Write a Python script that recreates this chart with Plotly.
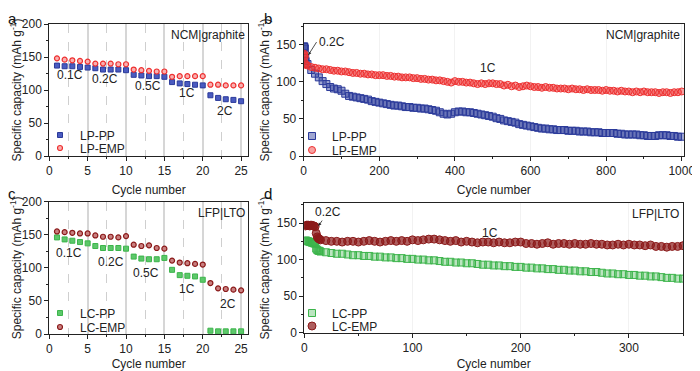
import plotly.graph_objects as go

# ---------------- Panel a: rate test NCM|graphite ----------------
cyc_a = list(range(1, 26))
lp_pp_rate = [137, 136, 136, 135, 134, 133, 131, 131, 131, 130,
              123, 122, 121, 121, 120, 112, 110, 109, 108, 107,
              92, 88, 86, 85, 83]
lp_emp_rate = [148, 146, 145, 144, 143, 140, 140, 140, 139, 139,
               131, 130, 129, 128, 128, 120, 121, 121, 121, 121,
               108, 108, 107, 107, 107]
rate_labels = ["0.1C", "0.2C", "0.5C", "1C", "2C"]
rate_lab_x_a = [2.7, 7.3, 12.8, 17.9, 22.9]
rate_lab_y_a = [122, 116, 106, 96, 68.6]

# ---------------- Panel c: rate test LFP|LTO ----------------
cyc_c = list(range(1, 26))
lc_pp_rate = [146, 143, 141, 139, 137, 133, 130, 130, 130, 129,
              117, 114, 113, 113, 115, 97, 89, 88, 87, 82,
              5, 4, 4, 4, 4]
lc_emp_rate = [155, 154, 153, 152, 152, 149, 147, 147, 146, 148,
               135, 133, 134, 130, 129, 111, 108, 107, 106, 105,
               77, 69, 68, 67, 66]
rate_lab_x_c = [2.6, 8.1, 12.6, 18.0, 23.3]
rate_lab_y_c = [123, 109, 92.7, 67.6, 46]

# ---------------- Panel b: long cycling NCM|graphite ----------------
cyc_b = [1, 2, 3, 4, 5] + list(range(10, 1001, 10))
lp_pp_cyc = [148, 147, 145, 132, 128,
             124, 116, 111, 106, 101, 97, 93, 91, 90, 88,
             84, 81, 80, 79, 78, 77, 76, 74, 73, 72,
             71, 70, 69, 68, 68, 67, 66, 66, 65, 65,
             64, 64, 63, 62, 61, 59, 57, 56, 57, 59,
             60, 60, 59, 59, 58, 57, 56, 55, 54, 53,
             51, 50, 48, 47, 46, 45, 43, 42, 41, 40,
             39, 38, 37, 37, 36, 36, 35, 35, 35, 34,
             34, 34, 33, 33, 33, 32, 32, 32, 31, 31,
             31, 31, 30, 30, 29, 29, 29, 29, 28, 28,
             27, 27, 27, 28, 28, 28, 27, 27, 26, 26]
lp_emp_cyc = [138, 136, 134, 125, 123,
              122, 120, 119, 118, 117, 117, 116, 115, 115, 114,
              114, 113, 112, 112, 111, 111, 110, 110, 109, 109,
              109, 108, 108, 107, 107, 106, 106, 106, 105, 105,
              104, 104, 103, 103, 102, 102, 101, 100, 99, 101,
              100, 100, 99, 99, 98, 97, 98, 97, 98, 98,
              97, 97, 95, 96, 94, 95, 93, 94, 95, 94,
              93, 93, 92, 93, 92, 92, 91, 91, 91, 90,
              91, 90, 90, 89, 90, 89, 89, 89, 88, 89,
              88, 88, 87, 88, 87, 87, 86, 87, 86, 87,
              86, 86, 86, 85, 86, 86, 85, 86, 86, 87]

# ---------------- Panel d: long cycling LFP|LTO ----------------
cyc_d = list(range(1, 15)) + list(range(15, 351, 5))
lc_emp_cyc = [146, 147, 147, 147, 146, 147, 147, 146, 146, 145,
              136, 131, 129, 128,
              127, 126, 125, 125, 124, 125, 125, 124, 125, 126,
              125, 124, 125, 126, 125, 126, 125, 127, 126, 127,
              128, 128, 127, 126, 125, 126, 124, 125, 124, 123,
              124, 124, 123, 124, 123, 123, 124, 124, 122, 122,
              121, 122, 123, 121, 122, 122, 121, 122, 121, 121,
              122, 121, 121, 120, 120, 121, 120, 121, 120, 120,
              119, 120, 118, 118, 117, 118, 118, 119]
lc_pp_cyc = [126, 126, 125, 125, 124, 124, 123, 123, 122, 122,
             115, 113, 112, 112,
             111, 110, 109, 108, 108, 107, 106, 106, 105, 105,
             104, 104, 103, 103, 102, 102, 101, 101, 100, 100,
             99, 99, 98, 97, 97, 96, 96, 95, 95, 94,
             93, 93, 92, 92, 91, 91, 90, 90, 89, 89,
             88, 88, 87, 87, 86, 86, 85, 85, 84, 84,
             83, 83, 82, 81, 81, 80, 80, 79, 79, 78,
             78, 77, 77, 76, 75, 75, 74, 74]

BLUE = "#2b3a9a"
RED = "#ee3030"
GREEN = "#3cb44b"
DRED = "#8b1a1a"
FONT = "Liberation Sans, Arial, sans-serif"

fig = go.Figure()

# a
fig.add_trace(go.Scatter(x=cyc_a, y=lp_pp_rate, mode="markers", name="LP-PP",
                         marker=dict(symbol="square", size=5, color="#4a5bc0",
                                     line=dict(color=BLUE, width=1)),
                         xaxis="x", yaxis="y", legend="legend"))
fig.add_trace(go.Scatter(x=cyc_a, y=lp_emp_rate, mode="markers", name="LP-EMP",
                         marker=dict(symbol="circle", size=5, color="#f9b0b0",
                                     line=dict(color=RED, width=1.2)),
                         xaxis="x", yaxis="y", legend="legend5"))
# b
fig.add_trace(go.Scatter(x=cyc_b, y=lp_pp_cyc, mode="markers", name="LP-PP",
                         marker=dict(symbol="square", size=7, color="rgba(43,58,154,0.45)",
                                     line=dict(color=BLUE, width=1)),
                         xaxis="x2", yaxis="y2", legend="legend2"))
fig.add_trace(go.Scatter(x=cyc_b, y=lp_emp_cyc, mode="markers", name="LP-EMP",
                         marker=dict(symbol="circle", size=7, color="rgba(238,48,48,0.45)",
                                     line=dict(color=RED, width=1)),
                         xaxis="x2", yaxis="y2", legend="legend6"))
# c
fig.add_trace(go.Scatter(x=cyc_c, y=lc_pp_rate, mode="markers", name="LC-PP",
                         marker=dict(symbol="square", size=5, color="#5cc86a",
                                     line=dict(color=GREEN, width=1)),
                         xaxis="x3", yaxis="y3", legend="legend3"))
fig.add_trace(go.Scatter(x=cyc_c, y=lc_emp_rate, mode="markers", name="LC-EMP",
                         marker=dict(symbol="circle", size=5, color="#c98080",
                                     line=dict(color=DRED, width=1.2)),
                         xaxis="x3", yaxis="y3", legend="legend7"))
# d
fig.add_trace(go.Scatter(x=cyc_d, y=lc_pp_cyc, mode="markers", name="LC-PP",
                         marker=dict(symbol="square", size=7, color="rgba(60,180,75,0.35)",
                                     line=dict(color=GREEN, width=1)),
                         xaxis="x4", yaxis="y4", legend="legend4"))
fig.add_trace(go.Scatter(x=cyc_d, y=lc_emp_cyc, mode="markers", name="LC-EMP",
                         marker=dict(symbol="circle", size=8, color="rgba(139,26,26,0.7)",
                                     line=dict(color=DRED, width=1)),
                         xaxis="x4", yaxis="y4", legend="legend8"))

# page body has an 8px margin: figure drawn at (8,8); map reference pixels by -8
OFF = 8
W, H = 700 - OFF, 371 - OFF
def dx(a, b):
    return [(a - OFF) / W, (b - OFF) / W]
def dy(top, bot):
    return [1 - (bot - OFF) / H, 1 - (top - OFF) / H]
def px(x):
    return (x - OFF) / W
def py(y):
    return 1 - (y - OFF) / H

tickfont = dict(family=FONT, size=12, color="#222")
titlefont = dict(family=FONT, size=12, color="#222")
ytitle = "Specific capacity (mAh g<sup>-1</sup>)"

def xax(domain, anchor, rng, dtick, minor_dtick, rate=False):
    d = dict(domain=domain, anchor=anchor, range=rng, dtick=dtick, tick0=0,
             showline=True, linecolor="#222", linewidth=1, mirror=True,
             ticks="outside", ticklen=4, tickcolor="#222", tickfont=tickfont,
             title=dict(text="Cycle number", font=titlefont, standoff=8),
             zeroline=False, automargin=False)
    if rate:
        d.update(showgrid=True, gridcolor="#d6d6d6", gridwidth=1.5,
                 minor=dict(dtick=minor_dtick, ticks="outside", ticklen=2, tickcolor="#222",
                            showgrid=True, gridcolor="#cfcfcf", griddash="dash", gridwidth=1))
    else:
        d.update(showgrid=True, gridcolor="#f2f2f2", gridwidth=1,
                 minor=dict(dtick=minor_dtick, ticks="outside", ticklen=2, tickcolor="#222"))
    return d

def yax(domain, anchor, rng, dtick, minor_dtick):
    return dict(domain=domain, anchor=anchor, range=rng, dtick=dtick, tick0=0,
                showline=True, linecolor="#222", linewidth=1, mirror=True,
                ticks="outside", ticklen=4, tickcolor="#222", tickfont=tickfont,
                showgrid=False, zeroline=False, automargin=False,
                minor=dict(dtick=minor_dtick, ticks="outside", ticklen=2, tickcolor="#222"),
                title=dict(text=ytitle, font=titlefont, standoff=4))

da_x = dx(49.3, 248); da_y = dy(24, 156)
db_x = dx(303.7, 684); db_y = dy(24, 156)
dc_x = dx(49.3, 248); dc_y = dy(201.7, 334)
dd_x = dx(304.3, 683); dd_y = dy(203.3, 332.7)

fig.update_layout(
    width=W, height=H, margin=dict(l=0, r=0, t=0, b=0, autoexpand=False),
    paper_bgcolor="white", plot_bgcolor="white", showlegend=True,
    font=dict(family=FONT, size=12, color="#222"),
    xaxis=xax(da_x, "y", [0, 25.9], 5, 2.5, rate=True),
    yaxis=yax(da_y, "x", [0, 200], 50, 25),
    xaxis2=xax(db_x, "y2", [0, 1006], 200, 100),
    yaxis2=yax(db_y, "x2", [0, 178], 50, 25),
    xaxis3=xax(dc_x, "y3", [0, 25.9], 5, 2.5, rate=True),
    yaxis3=yax(dc_y, "x3", [0, 200], 50, 25),
    xaxis4=xax(dd_x, "y4", [0, 350], 100, 50),
    yaxis4=yax(dd_y, "x4", [0, 177], 50, 25),
)

leg_common = dict(bgcolor="rgba(0,0,0,0)", font=dict(family=FONT, size=12, color="#222"),
                  xanchor="left", yanchor="middle", itemwidth=30, tracegroupgap=0,
                  visible=True)
def leg(x, y):
    return dict(x=px(x), y=py(y), **leg_common)

fig.update_layout(
    legend=leg(40, 135), legend5=leg(40, 148),
    legend2=leg(292, 136), legend6=leg(292, 150),
    legend3=leg(40, 313), legend7=leg(40, 327),
    legend4=leg(292, 313), legend8=leg(292, 326),
)

ann = []
# panel letters (top of figure area)
for txt, lx, ly in [("a", 12, OFF), ("b", 268, OFF), ("c", 12, 183), ("d", 268, 183)]:
    ann.append(dict(text=txt, x=px(lx), y=py(ly), xref="paper", yref="paper",
                    showarrow=False, font=dict(family=FONT, size=15, color="#111"),
                    xanchor="center", yanchor="top"))
# cell labels
for txt, xr, yr in [("NCM|graphite", "x domain", "y domain"), ("NCM|graphite", "x2 domain", "y2 domain"),
                    ("LFP|LTO", "x3 domain", "y3 domain"), ("LFP|LTO", "x4 domain", "y4 domain")]:
    ann.append(dict(text=txt, x=0.995, y=0.985, xref=xr, yref=yr, showarrow=False,
                    xanchor="right", yanchor="top", font=dict(family=FONT, size=12, color="#222")))
# rate labels
for t, x, y in zip(rate_labels, rate_lab_x_a, rate_lab_y_a):
    ann.append(dict(text=t, x=x, y=y, xref="x", yref="y", showarrow=False,
                    font=dict(family=FONT, size=12, color="#222")))
for t, x, y in zip(rate_labels, rate_lab_x_c, rate_lab_y_c):
    ann.append(dict(text=t, x=x, y=y, xref="x3", yref="y3", showarrow=False,
                    font=dict(family=FONT, size=12, color="#222")))
# panel b annotations
ann.append(dict(text="0.2C", x=12, y=136, xref="x2", yref="y2", ax=34, ay=153.6,
                axref="x2", ayref="y2", showarrow=True, arrowhead=2, arrowsize=0.8,
                arrowwidth=0.8, arrowcolor="#222", xanchor="left",
                font=dict(family=FONT, size=12, color="#222")))
ann.append(dict(text="1C", x=488, y=118.5, xref="x2", yref="y2", showarrow=False,
                font=dict(family=FONT, size=12, color="#222")))
# panel d annotations
ann.append(dict(text="0.2C", x=13, y=146, xref="x4", yref="y4", ax=22, ay=165,
                axref="x4", ayref="y4", showarrow=True, arrowhead=2, arrowsize=0.8,
                arrowwidth=0.8, arrowcolor="#222", xanchor="center",
                font=dict(family=FONT, size=12, color="#222")))
ann.append(dict(text="1C", x=172, y=136, xref="x4", yref="y4", showarrow=False,
                font=dict(family=FONT, size=12, color="#222")))
fig.update_layout(annotations=ann)

fig.write_html("out.html")
